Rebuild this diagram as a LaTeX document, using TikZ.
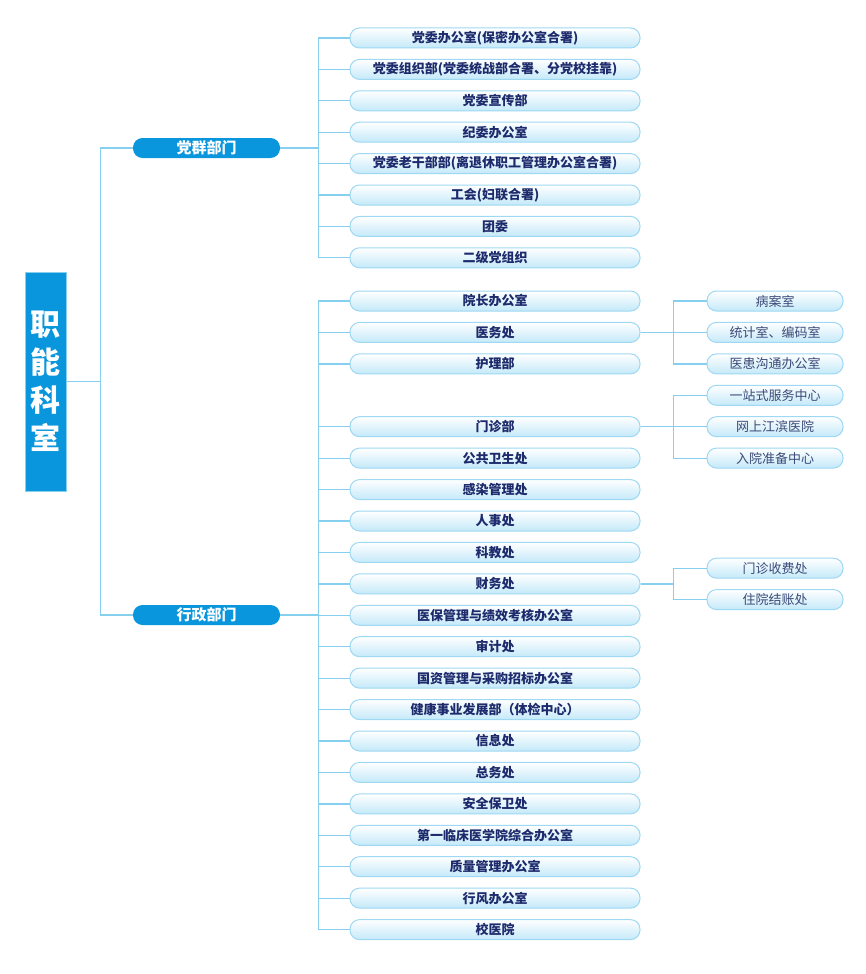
\documentclass[tikz,border=0pt]{standalone}
\usepackage{fontspec}
\newfontfamily\cjk{Noto Sans CJK SC}
\usetikzlibrary{positioning}
\definecolor{cblue}{HTML}{0A96DC}
\definecolor{cline}{HTML}{86CFEE}
\definecolor{cborder}{HTML}{9ED8F2}
\definecolor{cbottom}{HTML}{C4E9F9}
\definecolor{ctext}{HTML}{1D2A6B}
\definecolor{ctext2}{HTML}{3C4A78}
\tikzset{
  conn/.style={draw=cline, line width=1.2pt},
  mainbox/.style={fill=cblue, draw=cline, line width=0.6pt, minimum width=41, minimum height=219, inner sep=0, text=white, font=\cjk\bfseries\fontsize{30}{38}\selectfont, align=center},
  pill/.style={fill=cblue, rounded corners=9.5, minimum width=147, minimum height=20, inner sep=0, text=white, font=\cjk\bfseries\fontsize{15}{15}\selectfont},
  midbox/.style={draw=cborder, line width=1pt, top color=white, bottom color=cbottom, rounded corners=9.5, minimum width=290, minimum height=20, inner sep=0, text=ctext, font=\cjk\bfseries\fontsize{13}{13}\selectfont},
  sidebox/.style={draw=cborder, line width=1pt, top color=white, bottom color=cbottom, rounded corners=9.5, minimum width=136, minimum height=20, inner sep=0, text=ctext2, font=\cjk\fontsize{13}{13}\selectfont},
}
\begin{document}
\begin{tikzpicture}[x=1pt,y=-1pt]
\useasboundingbox (0,0) rectangle (866,974);
\node[mainbox] (main) at (45.5,381.5) {职\\能\\科\\室};
\node[pill] (p1) at (206.5,148) {党群部门};
\node[pill] (p2) at (206.5,615) {行政部门};
% group 1
\node[midbox] (a1) at (495,38) {党委办公室(保密办公室合署)};
\node[midbox] (a2) at (495,69.4) {党委组织部(党委统战部合署、分党校挂靠)};
\node[midbox] (a3) at (495,100.8) {党委宣传部};
\node[midbox] (a4) at (495,132.2) {纪委办公室};
\node[midbox] (a5) at (495,163.6) {党委老干部部(离退休职工管理办公室合署)};
\node[midbox] (a6) at (495,195) {工会(妇联合署)};
\node[midbox] (a7) at (495,226.4) {团委};
\node[midbox] (a8) at (495,257.8) {二级党组织};
% group 2
\node[midbox] (b1) at (495,301) {院长办公室};
\node[midbox] (b2) at (495,332.4) {医务处};
\node[midbox] (b3) at (495,363.9) {护理部};
\node[midbox] (b4) at (495,426.7) {门诊部};
\node[midbox] (b5) at (495,458.1) {公共卫生处};
\node[midbox] (b6) at (495,489.6) {感染管理处};
\node[midbox] (b7) at (495,521) {人事处};
\node[midbox] (b8) at (495,552.4) {科教处};
\node[midbox] (b9) at (495,583.9) {财务处};
\node[midbox] (b10) at (495,615.3) {医保管理与绩效考核办公室};
\node[midbox] (b11) at (495,646.7) {审计处};
\node[midbox] (b12) at (495,678.1) {国资管理与采购招标办公室};
\node[midbox] (b13) at (495,709.6) {健康事业发展部（体检中心）};
\node[midbox] (b14) at (495,741) {信息处};
\node[midbox] (b15) at (495,772.4) {总务处};
\node[midbox] (b16) at (495,803.9) {安全保卫处};
\node[midbox] (b17) at (495,835.3) {第一临床医学院综合办公室};
\node[midbox] (b18) at (495,866.7) {质量管理办公室};
\node[midbox] (b19) at (495,898.1) {行风办公室};
\node[midbox] (b20) at (495,929.6) {校医院};
% side
\node[sidebox] (c1) at (775,301) {病案室};
\node[sidebox] (c2) at (775,332.4) {统计室、编码室};
\node[sidebox] (c3) at (775,363.9) {医患沟通办公室};
\node[sidebox] (d1) at (775,395.3) {一站式服务中心};
\node[sidebox] (d2) at (775,426.7) {网上江滨医院};
\node[sidebox] (d3) at (775,458.1) {入院准备中心};
\node[sidebox] (e1) at (775,568.2) {门诊收费处};
\node[sidebox] (e2) at (775,599.6) {住院结账处};
% connectors
\foreach \p in {p1,p2} \draw[conn] (main.east) -- ++(34.5,0) |- (\p.west);
\foreach \n in {a1,a2,a3,a4,a5,a6,a7,a8} \draw[conn] (p1.east) -- ++(38,0) |- (\n.west);
\foreach \n in {b1,b2,b3,b4,b5,b6,b7,b8,b9,b10,b11,b12,b13,b14,b15,b16,b17,b18,b19,b20} \draw[conn] (p2.east) -- ++(38,0) |- (\n.west);
\foreach \n in {c1,c2,c3} \draw[conn] (b2.east) -- ++(33,0) |- (\n.west);
\foreach \n in {d1,d2,d3} \draw[conn] (b4.east) -- ++(33,0) |- (\n.west);
\foreach \n in {e1,e2} \draw[conn] (b9.east) -- ++(33,0) |- (\n.west);
\end{tikzpicture}
\end{document}
